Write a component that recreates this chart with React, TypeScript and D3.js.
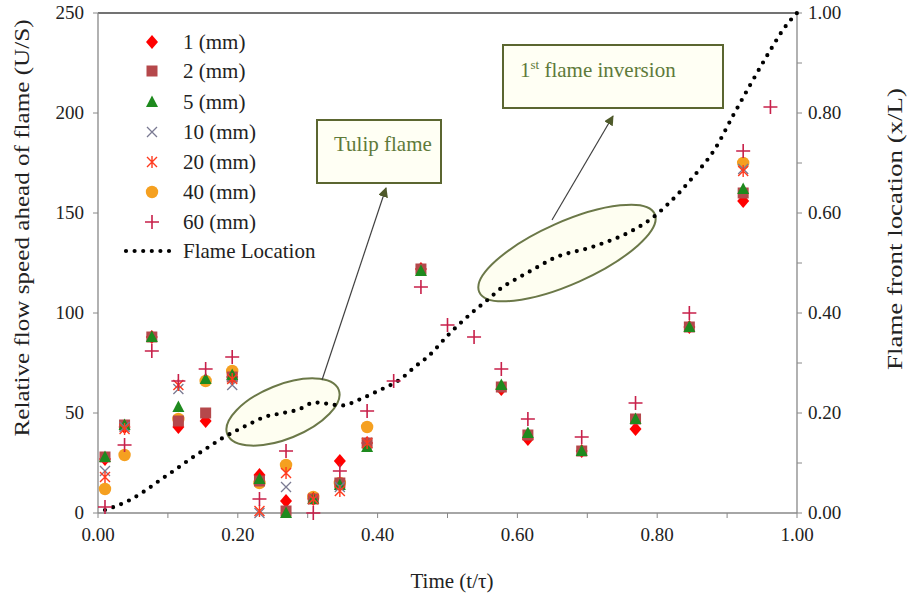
import React from 'react';
import * as d3 from 'd3';

// time columns (t/tau)
const times = [0.01, 0.038, 0.077, 0.115, 0.154, 0.192, 0.231, 0.269, 0.308, 0.346, 0.385, 0.423, 0.462, 0.5, 0.538, 0.577, 0.615, 0.692, 0.769, 0.846, 0.923, 0.962];

const s1 = [27, 43, 88, 43, 46, 68, 19, 6, 7, 26, 35, null, 122, null, null, 62, 37, 31, 42, 93, 156, null];
const s2 = [28, 44, 88, 46, 50, 68, 16, 1, 7, 15, 35, null, 122, null, null, 63, 39, 31, 47, 93, 160, null];
const s5 = [28, 44, 88, 53, 67, 69, 17, 0, 7, 14, 33, null, 121, null, null, 64, 40, 31, 47, 93, 162, null];
const s10 = [21, 43, null, 62, null, 64, 0, 13, 7, 13, 35, null, null, null, null, null, null, null, null, null, 172, null];
const s20 = [18, 42, null, 64, null, 67, 1, 20, 7, 11, 35, null, null, null, null, null, null, null, null, null, 171, null];
const s40 = [12, 29, null, 47, 66, 71, 15, 24, 8, 15, 43, null, null, null, null, null, null, null, null, null, 175, null];
const s60 = [3, 34, 81, 66, 72, 78, 7, 31, 0, 21, 51, 66, 113, 94, 88, 72, 47, 38, 55, 100, 181, 203];

const flameT = [0.01, 0.047, 0.069, 0.09, 0.112, 0.133, 0.155, 0.177, 0.201, 0.224, 0.236, 0.261, 0.287, 0.31, 0.325, 0.349, 0.374, 0.399, 0.434, 0.454, 0.473, 0.501, 0.537, 0.558, 0.578, 0.597, 0.625, 0.651, 0.709, 0.766, 0.792, 0.814, 0.852, 0.883, 0.909, 0.933, 0.959, 0.985, 1.0];
const flameX = [0.006, 0.027, 0.046, 0.067, 0.088, 0.109, 0.129, 0.149, 0.167, 0.183, 0.191, 0.199, 0.207, 0.221, 0.219, 0.215, 0.227, 0.243, 0.269, 0.293, 0.314, 0.356, 0.403, 0.427, 0.451, 0.467, 0.489, 0.509, 0.533, 0.566, 0.589, 0.616, 0.673, 0.729, 0.796, 0.856, 0.919, 0.976, 1.0];

const seriesNames = ['1 (mm)', '2 (mm)', '5 (mm)', '10 (mm)', '20 (mm)', '40 (mm)', '60 (mm)'];
const seriesValues = [s1, s2, s5, s10, s20, s40, s60];
const seriesShapes = ['diamond', 'square', 'triangle', 'x', 'star', 'circle', 'plus'];
const seriesColors = ['#ff0000', '#b5484b', '#1e8a1e', '#7a7a92', '#ff3a1e', '#f5a020', '#c8204a'];
// 40 mm sits under the others
const drawOrder = [5, 0, 1, 2, 3, 4, 6];

const xTicks = [0, 0.2, 0.4, 0.6, 0.8, 1.0];
const xMinor = [0, 0.1, 0.2, 0.3, 0.4, 0.5, 0.6, 0.7, 0.8, 0.9, 1.0];
const yTicks = [0, 50, 100, 150, 200, 250];
const y2Ticks = [0, 0.2, 0.4, 0.6, 0.8, 1.0];
const y2Minor = [0, 0.1, 0.2, 0.3, 0.4, 0.5, 0.6, 0.7, 0.8, 0.9, 1.0];

const W = 909, H = 600;
const L = 98, R = 797, T = 13, B = 513;
const font = '"Liberation Serif", "Times New Roman", serif';

const Marker = ({shape, x, y, color}: {shape: string, x: number, y: number, color: string}) => {
  switch (shape) {
    case 'diamond':
      return <path d={`M${x},${y - 7}L${x + 6},${y}L${x},${y + 7}L${x - 6},${y}Z`} fill={color} />;
    case 'square':
      return <rect x={x - 5.5} y={y - 5.5} width={11} height={11} fill={color} />;
    case 'triangle':
      return <path d={`M${x},${y - 6.5}L${x + 6},${y + 5}L${x - 6},${y + 5}Z`} fill={color} />;
    case 'x':
      return <path d={`M${x - 5},${y - 5}L${x + 5},${y + 5}M${x - 5},${y + 5}L${x + 5},${y - 5}`} stroke={color} strokeWidth={1.3} fill="none" />;
    case 'star':
      return <path d={`M${x - 5},${y - 5}L${x + 5},${y + 5}M${x - 5},${y + 5}L${x + 5},${y - 5}M${x},${y - 6}L${x},${y + 6}`} stroke={color} strokeWidth={1.4} fill="none" />;
    case 'circle':
      return <circle cx={x} cy={y} r={6.2} fill={color} />;
    default:
      return <path d={`M${x - 7},${y}L${x + 7},${y}M${x},${y - 7}L${x},${y + 7}`} stroke={color} strokeWidth={1.6} fill="none" />;
  }
};

export default function App() {
  const x = d3.scaleLinear().domain([0, 1]).range([L, R]);
  const y = d3.scaleLinear().domain([0, 250]).range([B, T]);
  const y2 = d3.scaleLinear().domain([0, 1]).range([B, T]);

  const line = d3.line<number>()
    .x((d, i) => x(flameT[i]))
    .y(d => y2(d))
    .curve(d3.curveMonotoneX);

  const legendRows = [42, 71, 102, 132, 162, 192, 222];

  return (
    <svg width={W} height={H} style={{position: 'absolute', left: 0, top: 0, background: '#fff'}} fontFamily={font}>
      <defs>
        <marker id="arr" viewBox="0 0 10 10" refX="9" refY="5" markerWidth="10" markerHeight="10" orient="auto-start-reverse" markerUnits="userSpaceOnUse">
          <path d="M0,0L10,5L0,10Z" fill="#4f5a2a" />
        </marker>
      </defs>

      {/* frame */}
      <line x1={L} x2={R} y1={T} y2={T} stroke="#444" strokeWidth={1.5} />
      <line x1={L} x2={L} y1={T} y2={B} stroke="#888" strokeWidth={1.3} />
      <line x1={R} x2={R} y1={T} y2={B} stroke="#888" strokeWidth={1.3} />
      <line x1={L} x2={R} y1={B} y2={B} stroke="#888" strokeWidth={1.3} />

      {/* x axis */}
      {xMinor.map(t => <line key={'xm' + t} x1={x(t)} x2={x(t)} y1={B} y2={B + 5} stroke="#888" />)}
      {xTicks.map(t => (
        <text key={'xt' + t} x={x(t)} y={B + 28} fontSize={19} textAnchor="middle" fill="#222">{t.toFixed(2)}</text>
      ))}
      <text x={452} y={588} fontSize={21} textAnchor="middle" fill="#222">Time (t/τ)</text>

      {/* left axis */}
      {yTicks.map(v => (
        <g key={'yt' + v}>
          <line x1={L - 5} x2={L} y1={y(v)} y2={y(v)} stroke="#888" />
          <text x={L - 14} y={y(v) + 6} fontSize={19} textAnchor="end" fill="#222">{v}</text>
        </g>
      ))}
      <text transform={`translate(29,228) rotate(-90)`} fontSize={21} textAnchor="middle" fill="#222"
        textLength={417} lengthAdjust="spacingAndGlyphs">
        Relative flow speed ahead of flame (U/S)
      </text>

      {/* right axis */}
      {y2Minor.map(v => <line key={'ym' + v} x1={R} x2={R + 5} y1={y2(v)} y2={y2(v)} stroke="#888" />)}
      {y2Ticks.map(v => (
        <text key={'y2t' + v} x={R + 11} y={y2(v) + 6} fontSize={19} fill="#222">{v.toFixed(2)}</text>
      ))}
      <text transform={`translate(902,229) rotate(-90)`} fontSize={21} textAnchor="middle" fill="#222"
        textLength={282} lengthAdjust="spacingAndGlyphs">
        Flame front location  (x/L)
      </text>

      {/* annotations: ellipses */}
      <ellipse cx={283} cy={412} rx={60} ry={27} transform="rotate(-22 283 412)" fill="#fdfde8" fillOpacity={0.6} stroke="#6b7848" strokeWidth={2} />
      <ellipse cx={567} cy={253} rx={96} ry={31} transform="rotate(-24 567 253)" fill="#fdfde8" fillOpacity={0.6} stroke="#6b7848" strokeWidth={2} />

      {/* flame location */}
      <path d={line(flameX) || ''} fill="none" stroke="#000" strokeWidth={4.2} strokeLinecap="round" strokeDasharray="0 8.6" />

      {/* scatter series */}
      {drawOrder.map(si => (
        <g key={'s' + si}>
          {seriesValues[si].map((v, i) => v == null ? null : (
            <Marker key={i} shape={seriesShapes[si]} x={x(times[i])} y={y(v)} color={seriesColors[si]} />
          ))}
        </g>
      ))}

      {/* arrows and boxes */}
      <line x1={322} y1={380} x2={386} y2={188} stroke="#404040" strokeWidth={1.2} markerEnd="url(#arr)" />
      <line x1={552} y1={220} x2={613} y2={116} stroke="#404040" strokeWidth={1.2} markerEnd="url(#arr)" />

      <rect x={317} y={120} width={124} height={63} fill="#fffff4" stroke="#5b6630" strokeWidth={2} />
      <text x={334} y={151} fontSize={21} fill="#5e7a3a">Tulip flame</text>

      <rect x={503} y={45} width={220} height={63} fill="#fffff4" stroke="#5b6630" strokeWidth={2} />
      <text x={520} y={77} fontSize={21} fill="#5e7a3a">
        1<tspan fontSize={13} dy={-8}>st</tspan><tspan dy={8}> flame inversion</tspan>
      </text>

      {/* legend */}
      {seriesNames.map((n, i) => (
        <g key={'lg' + i}>
          <Marker shape={seriesShapes[i]} x={152} y={legendRows[i]} color={seriesColors[i]} />
          <text x={183} y={legendRows[i] + 7} fontSize={21} fill="#222">{n}</text>
        </g>
      ))}
      <line x1={126} x2={172} y1={251} y2={251} stroke="#000" strokeWidth={4.2} strokeLinecap="round" strokeDasharray="0 8.6" />
      <text x={183} y={258} fontSize={21} fill="#222">Flame Location</text>
    </svg>
  );
}
